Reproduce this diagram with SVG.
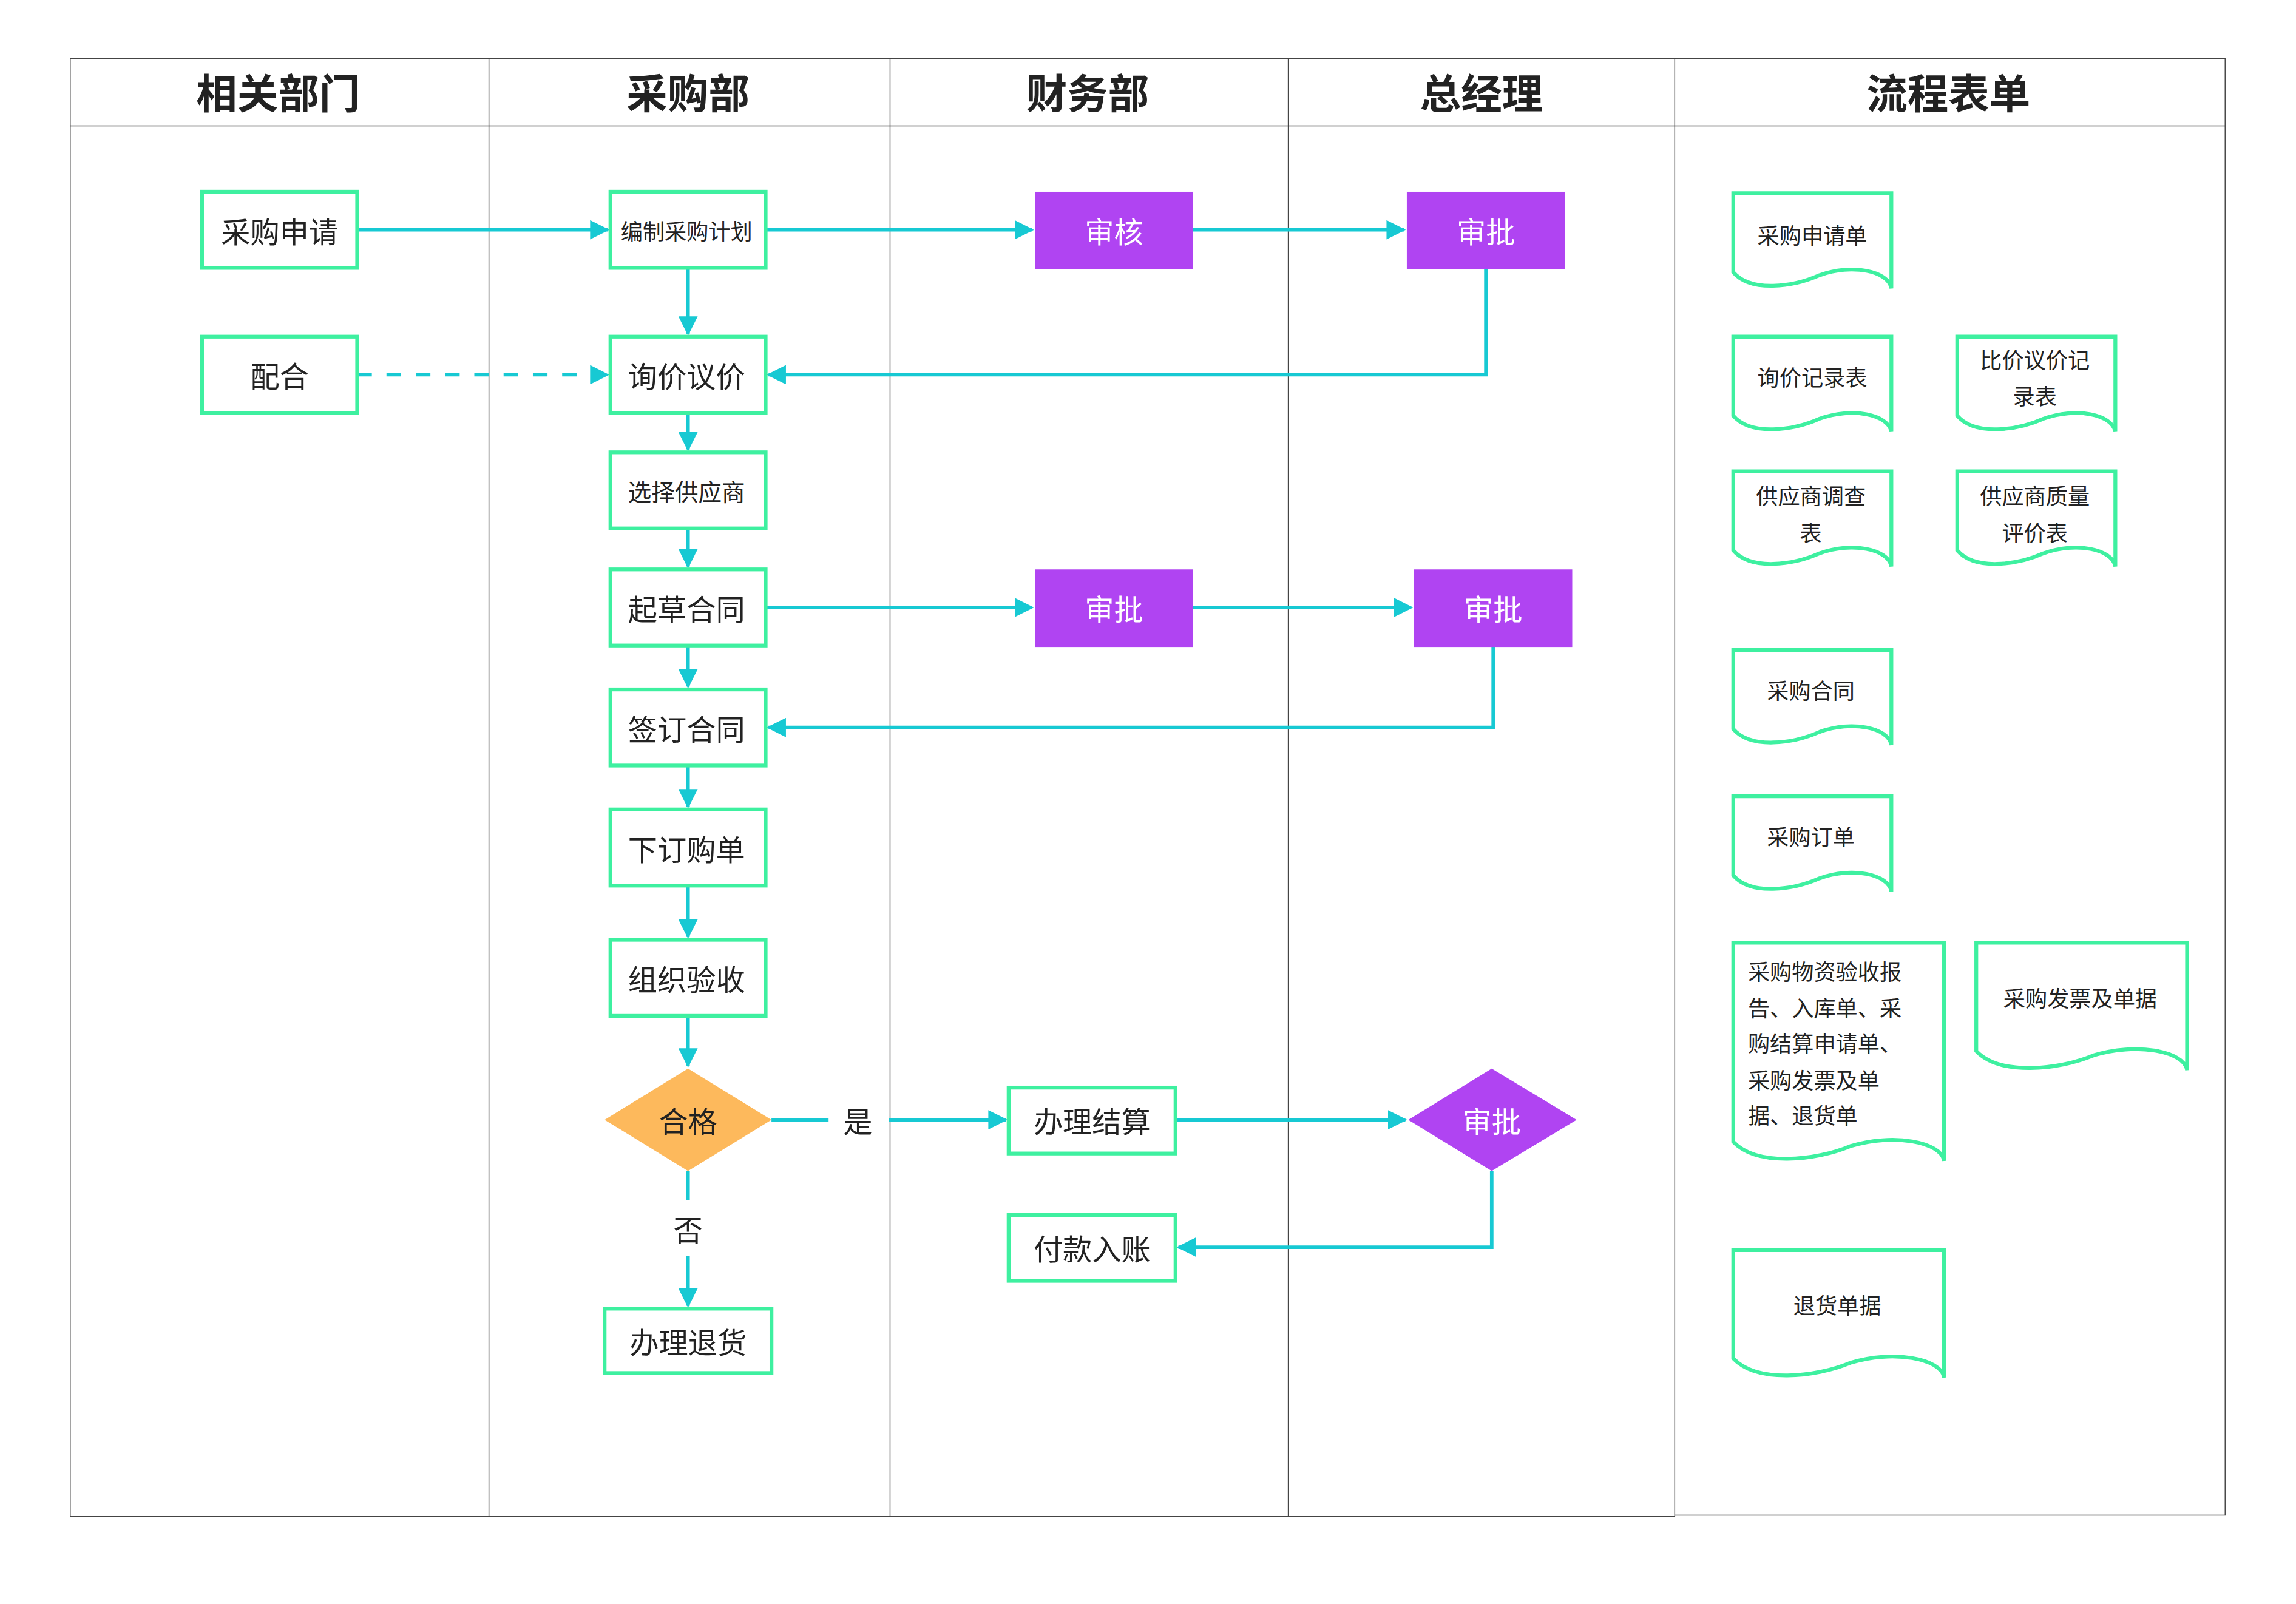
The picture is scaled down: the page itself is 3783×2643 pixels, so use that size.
<svg xmlns="http://www.w3.org/2000/svg" width="3783" height="2643" viewBox="0 0 3783 2643">
<defs>
<marker id="ar" viewBox="0 0 10 10" refX="9" refY="5" markerWidth="5.5" markerHeight="5.5" orient="auto" markerUnits="strokeWidth"><path d="M0,0 L10,5 L0,10 Z" fill="#17C9D3"/></marker>
<style>
.t{font-family:"Noto Sans CJK SC","Liberation Sans",sans-serif;fill:#222;text-anchor:middle;dominant-baseline:central}
.l{text-anchor:start}
.h{font-size:28px;font-weight:bold}
.n{fill:#fff;stroke:#3EF0A0;stroke-width:2.6}
.p{fill:#B044F2}
.c{fill:none;stroke:#17C9D3;stroke-width:2.4}
.f{fill:none;stroke:#444;stroke-width:0.6}
.w{fill:#fff}
</style>
</defs>
<rect width="3783" height="2643" fill="#fff"/>
<g transform="scale(2.412)">
<g id="frame">
<path class="f" d="M48,40 H1520 V1035 H1144 M48,40 V1036 H1144 V40 M48,86 H1520 M334,40 V1036 M608,40 V1036 M880,40 V1036"/>
<text class="t h" x="190" y="62">相关部门</text>
<text class="t h" x="470" y="62">采购部</text>
<text class="t h" x="743" y="62">财务部</text>
<text class="t h" x="1012" y="62">总经理</text>
<text class="t h" x="1331" y="62">流程表单</text>
</g>
<g id="connectors">
<path class="c" d="M244,157 H415" marker-end="url(#ar)"/>
<path class="c" d="M523,157 H705" marker-end="url(#ar)"/>
<path class="c" d="M815,157 H959" marker-end="url(#ar)"/>
<path class="c" d="M1015,184 V256 H525" marker-end="url(#ar)"/>
<path class="c" d="M244,256 H415" stroke-dasharray="10,10" marker-end="url(#ar)"/>
<path class="c" d="M470,183 V228" marker-end="url(#ar)"/>
<path class="c" d="M470,282 V307" marker-end="url(#ar)"/>
<path class="c" d="M470,361 V387" marker-end="url(#ar)"/>
<path class="c" d="M470,441 V469" marker-end="url(#ar)"/>
<path class="c" d="M470,523 V551" marker-end="url(#ar)"/>
<path class="c" d="M470,605 V640" marker-end="url(#ar)"/>
<path class="c" d="M470,694 V728" marker-end="url(#ar)"/>
<path class="c" d="M523,415 H705" marker-end="url(#ar)"/>
<path class="c" d="M815,415 H964" marker-end="url(#ar)"/>
<path class="c" d="M1020,442 V497 H525" marker-end="url(#ar)"/>
<path class="c" d="M527,765 H566"/>
<path class="c" d="M607,765 H687" marker-end="url(#ar)"/>
<text class="t" x="586" y="765" font-size="20">是</text>
<path class="c" d="M470,800 V820"/>
<path class="c" d="M470,858 V892" marker-end="url(#ar)"/>
<text class="t" x="470" y="839" font-size="20">否</text>
<path class="c" d="M803,765 H960" marker-end="url(#ar)"/>
<path class="c" d="M1019,800 V852 H805" marker-end="url(#ar)"/>
</g>
<g id="n1"><rect class="n" x="138" y="131" width="106" height="52"/><text class="t" x="191" y="157" font-size="20">采购申请</text></g>
<g id="n2"><rect class="n" x="138" y="230" width="106" height="52"/><text class="t" x="191" y="256" font-size="20">配合</text></g>
<g id="n3"><rect class="n" x="417" y="131" width="106" height="52"/><text class="t" x="469" y="157" font-size="15">编制采购计划</text></g>
<g id="n4"><rect class="n" x="417" y="230" width="106" height="52"/><text class="t" x="469" y="256" font-size="20">询价议价</text></g>
<g id="n5"><rect class="n" x="417" y="309" width="106" height="52"/><text class="t" x="469" y="335" font-size="16">选择供应商</text></g>
<g id="n6"><rect class="n" x="417" y="389" width="106" height="52"/><text class="t" x="469" y="415" font-size="20">起草合同</text></g>
<g id="n7"><rect class="n" x="417" y="471" width="106" height="52"/><text class="t" x="469" y="497" font-size="20">签订合同</text></g>
<g id="n8"><rect class="n" x="417" y="553" width="106" height="52"/><text class="t" x="469" y="579" font-size="20">下订购单</text></g>
<g id="n9"><rect class="n" x="417" y="642" width="106" height="52"/><text class="t" x="469" y="668" font-size="20">组织验收</text></g>
<g id="n10"><path d="M470,730 L527,765 L470,800 L413,765 Z" fill="#FDB95C"/><text class="t" x="470" y="765" font-size="20">合格</text></g>
<g id="n11"><rect class="n" x="413" y="894" width="114" height="44"/><text class="t" x="470" y="916" font-size="20">办理退货</text></g>
<g id="n12"><rect class="p" x="707" y="131" width="108" height="53"/><text class="t w" x="761" y="157" font-size="20">审核</text></g>
<g id="n13"><rect class="p" x="961" y="131" width="108" height="53"/><text class="t w" x="1015" y="157" font-size="20">审批</text></g>
<g id="n14"><rect class="p" x="707" y="389" width="108" height="53"/><text class="t w" x="761" y="415" font-size="20">审批</text></g>
<g id="n15"><rect class="p" x="966" y="389" width="108" height="53"/><text class="t w" x="1020" y="415" font-size="20">审批</text></g>
<g id="n16"><rect class="n" x="689" y="743" width="114" height="45"/><text class="t" x="746" y="765" font-size="20">办理结算</text></g>
<g id="n17"><rect class="n" x="689" y="830" width="114" height="45"/><text class="t" x="746" y="852" font-size="20">付款入账</text></g>
<g id="n18"><path d="M1019,730 L1077,765 L1019,800 L962,765 Z" fill="#B044F2"/><text class="t w" x="1019" y="765" font-size="20">审批</text></g>
<g id="d1"><path class="n" d="M1184,132 H1292 V197 C1290,185 1265,180 1243,188 C1225,196 1196,200 1184,186 Z"/><text class="t" x="1238" y="160" font-size="15">采购申请单</text></g>
<g id="d2"><path class="n" d="M1184,230 H1292 V295 C1290,283 1265,278 1243,286 C1225,294 1196,298 1184,284 Z"/><text class="t" x="1238" y="257" font-size="15">询价记录表</text></g>
<g id="d3"><path class="n" d="M1337,230 H1445 V295 C1443,283 1418,278 1396,286 C1378,294 1349,298 1337,284 Z"/><text class="t" x="1390" y="245" font-size="15">比价议价记</text><text class="t" x="1390" y="270" font-size="15">录表</text></g>
<g id="d4"><path class="n" d="M1184,322 H1292 V387 C1290,375 1265,370 1243,378 C1225,386 1196,390 1184,376 Z"/><text class="t" x="1237" y="338" font-size="15">供应商调查</text><text class="t" x="1237" y="363" font-size="15">表</text></g>
<g id="d5"><path class="n" d="M1337,322 H1445 V387 C1443,375 1418,370 1396,378 C1378,386 1349,390 1337,376 Z"/><text class="t" x="1390" y="338" font-size="15">供应商质量</text><text class="t" x="1390" y="363" font-size="15">评价表</text></g>
<g id="d6"><path class="n" d="M1184,444 H1292 V509 C1290,497 1265,492 1243,500 C1225,508 1196,512 1184,498 Z"/><text class="t" x="1237" y="471" font-size="15">采购合同</text></g>
<g id="d7"><path class="n" d="M1184,544 H1292 V609 C1290,597 1265,592 1243,600 C1225,608 1196,612 1184,598 Z"/><text class="t" x="1237" y="571" font-size="15">采购订单</text></g>
<g id="d8"><path class="n" d="M1184,644 H1328 V793 C1326,780 1293,774 1264,783 C1240,793 1200,797 1184,780 Z"/>
<text class="t l" x="1194" y="663" font-size="15">采购物资验收报</text><text class="t l" x="1194" y="688" font-size="15">告、入库单、采</text><text class="t l" x="1194" y="712" font-size="15">购结算申请单、</text><text class="t l" x="1194" y="737" font-size="15">采购发票及单</text><text class="t l" x="1194" y="761" font-size="15">据、退货单</text></g>
<g id="d9"><path class="n" d="M1350,644 H1494 V731 C1492,718 1459,712 1430,721 C1406,731 1366,735 1350,718 Z"/><text class="t" x="1421" y="681" font-size="15">采购发票及单据</text></g>
<g id="d10"><path class="n" d="M1184,854 H1328 V941 C1326,928 1293,922 1264,931 C1240,941 1200,945 1184,928 Z"/><text class="t" x="1255" y="891" font-size="15">退货单据</text></g>
</g>
</svg>
